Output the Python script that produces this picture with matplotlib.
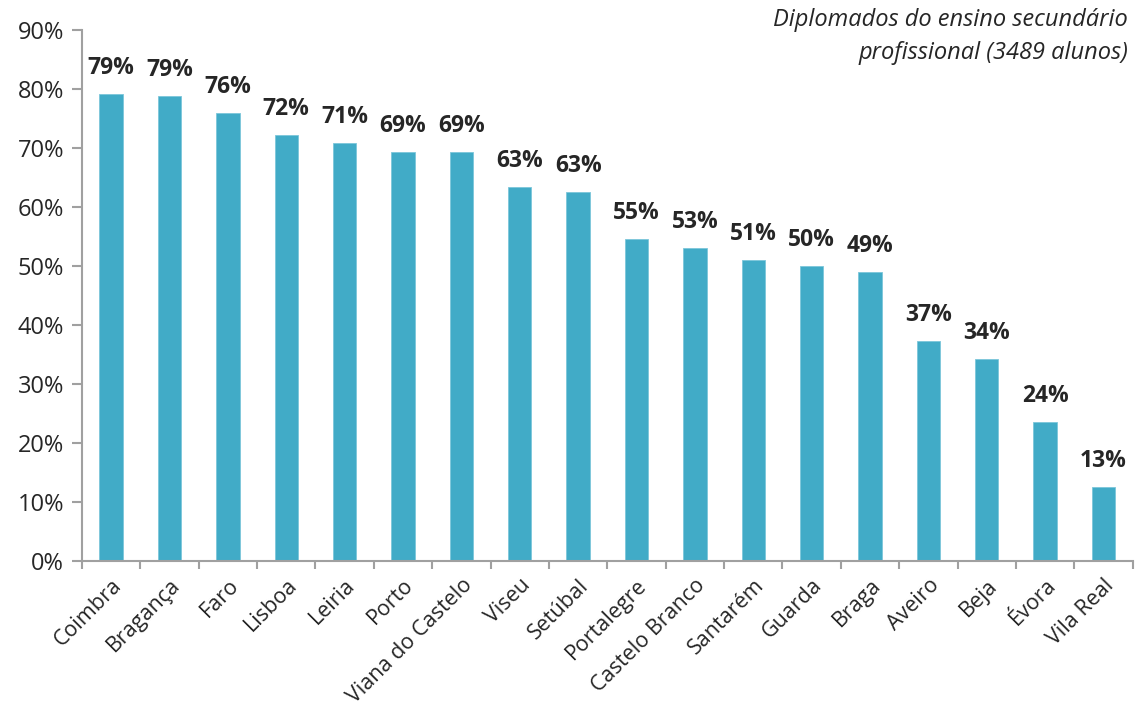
import matplotlib.pyplot as plt
from matplotlib.ticker import PercentFormatter

plt.rcParams["font.family"] = ["Open Sans", "DejaVu Sans"]

distritos = ["Coimbra", "Bragança", "Faro", "Lisboa", "Leiria", "Porto",
             "Viana do Castelo", "Viseu", "Setúbal", "Portalegre",
             "Castelo Branco", "Santarém", "Guarda", "Braga", "Aveiro",
             "Beja", "Évora", "Vila Real"]
valores = [79.2, 78.9, 76.0, 72.2, 70.9, 69.3, 69.3, 63.4, 62.6, 54.6,
           53.0, 51.0, 50.0, 49.0, 37.3, 34.2, 23.6, 12.6]
titulo = "Diplomados do ensino secundário\nprofissional (3489 alunos)"

BAR = "#41abc7"
AXIS = "#a0a0a0"
TXT = "#262626"

fig = plt.figure(figsize=(11.35, 7.01), dpi=100)
ax = fig.add_axes([0.0722, 0.1997, 0.9258, 0.7573])

x = list(range(len(distritos)))
ax.bar(x, valores, width=0.4, color=BAR, edgecolor="#7cc6da", linewidth=0.6)
for xi, v in zip(x, valores):
    ax.annotate(f"{round(v):.0f}%", (xi, v), xytext=(0, 10), textcoords="offset points",
                ha="center", va="bottom", fontsize=16.5, fontweight="bold", color=TXT)

ax.set_xlim(-0.5, len(distritos) - 0.5)
ax.set_ylim(0, 90)
ax.set_yticks(range(0, 91, 10))
ax.yaxis.set_major_formatter(PercentFormatter(decimals=0))
ax.set_xticks(x)
ax.set_xticklabels(distritos, rotation=45, ha="right", rotation_mode="anchor")
ax.set_xticks([i - 0.5 for i in range(len(distritos) + 1)], minor=True)
ax.tick_params(axis="x", which="major", length=0, pad=10, labelsize=15.5, labelcolor=TXT)
ax.tick_params(axis="x", which="minor", length=6, width=1.5, color=AXIS, direction="out")
ax.tick_params(axis="y", length=7, width=1.5, color=AXIS, labelsize=17, labelcolor=TXT, pad=6)

for s in ["top", "right"]:
    ax.spines[s].set_visible(False)
for s in ["left", "bottom"]:
    ax.spines[s].set_color(AXIS)
    ax.spines[s].set_linewidth(1.5)

fig.text(0.994, 0.988, titulo, ha="right", va="top", fontsize=17, style="italic",
         color=TXT, linespacing=1.45)

fig.savefig("out.png", dpi=100)
